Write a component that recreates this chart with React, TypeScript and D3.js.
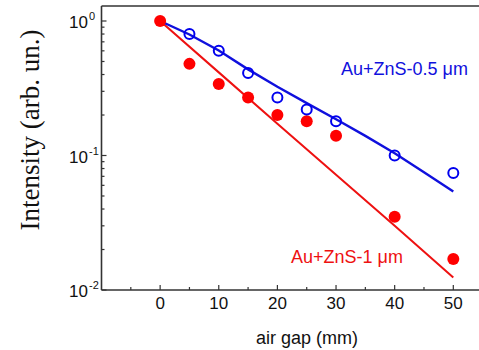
import React from "react";
import * as d3 from "d3";

const gapBlue = [5, 10, 15, 20, 25, 30, 40, 50];
const intensityBlue = [0.8, 0.6, 0.41, 0.27, 0.22, 0.18, 0.1, 0.074];
const gapRed = [0, 5, 10, 15, 20, 25, 30, 40, 50];
const intensityRed = [1.0, 0.48, 0.34, 0.27, 0.2, 0.18, 0.14, 0.035, 0.017];
const fitGapBlue = [0, 5, 10, 15, 20, 25, 30, 35, 40, 45, 50];
const fitBlue = [1.0, 0.794, 0.603, 0.437, 0.324, 0.245, 0.186, 0.14, 0.104, 0.075, 0.054];
const fitGapRed = [0, 10, 20, 30, 40, 50];
const fitRed = [1.0, 0.415, 0.172, 0.072, 0.03, 0.0124];
const xMajorTicks = [0, 10, 20, 30, 40, 50];
const xMinorTicks = [-5, 5, 15, 25, 35, 45];
const yMajorTicks = [1, 0.1, 0.01];
const yTickExp = ["0", "-1", "-2"];
const labelBlue = "Au+ZnS-0.5 \u03bcm";
const labelRed = "Au+ZnS-1 \u03bcm";

export default function App() {
  const W = 479, H = 350;
  const x = d3.scaleLinear().domain([-10, 50]).range([101.5, 453.3]);
  const y = d3.scaleLog().domain([0.01, 1]).range([290, 21]);
  const top = 6, bottom = 290, left = 101.5, right = 485;
  const axisColor = "#333";
  const yMinor: number[] = [];
  [0.01, 0.1].forEach((d) => {
    for (let k = 2; k <= 9; k++) yMinor.push(d * k);
  });
  const line = d3.line<[number, number]>().x((d) => x(d[0])).y((d) => y(d[1]));
  const bluePath = line(fitGapBlue.map((g, i) => [g, fitBlue[i]]))!;
  const redPath = line(fitGapRed.map((g, i) => [g, fitRed[i]]))!;
  const font = "Arial, 'Liberation Sans', sans-serif";
  return (
    <svg width={W} height={H} style={{ position: "absolute", left: 0, top: 0, background: "#fff" }}>
      <rect x={0} y={0} width={W} height={H} fill="#fff" />
      <line x1={left} x2={right} y1={top} y2={top} stroke={axisColor} strokeWidth={1.6} />
      <line x1={left} x2={left} y1={top} y2={bottom} stroke={axisColor} strokeWidth={1.6} />
      <line x1={left} x2={right} y1={bottom} y2={bottom} stroke={axisColor} strokeWidth={1.6} />
      {xMajorTicks.map((t) => (
        <g key={"xm" + t}>
          <line x1={x(t)} x2={x(t)} y1={bottom} y2={bottom - 5} stroke={axisColor} strokeWidth={1.2} />
          <text x={x(t)} y={309} textAnchor="middle" fontFamily={font} fontSize={17} fill="#111">{t}</text>
        </g>
      ))}
      {xMinorTicks.map((t) => (
        <line key={"xn" + t} x1={x(t)} x2={x(t)} y1={bottom} y2={bottom - 3} stroke={axisColor} strokeWidth={1.2} />
      ))}
      {yMajorTicks.map((t, i) => (
        <g key={"ym" + t}>
          <line x1={left} x2={left + 5} y1={y(t)} y2={y(t)} stroke={axisColor} strokeWidth={1.2} />
          <text x={88} y={y(t) + 7} textAnchor="end" fontFamily={font} fontSize={17} fill="#111">10</text>
          <text x={89} y={y(t) - 1} textAnchor="start" fontFamily={font} fontSize={11} fill="#111">{yTickExp[i]}</text>
        </g>
      ))}
      {yMinor.map((t) => (
        <line key={"yn" + t} x1={left} x2={left + 3} y1={y(t)} y2={y(t)} stroke={axisColor} strokeWidth={1.2} />
      ))}
      <path d={redPath} fill="none" stroke="#ee1111" strokeWidth={2} />
      <path d={bluePath} fill="none" stroke="#1010dd" strokeWidth={2.4} />
      {gapRed.map((g, i) => (
        <circle key={"r" + i} cx={x(g)} cy={y(intensityRed[i])} r={6} fill="#ff0000" />
      ))}
      {gapBlue.map((g, i) => (
        <circle key={"b" + i} cx={x(g)} cy={y(intensityBlue[i])} r={5} fill="none" stroke="#0000ee" strokeWidth={2} />
      ))}
      <text x={341} y={75} fontFamily={font} fontSize={18} fill="#1010dd">{labelBlue}</text>
      <text x={291} y={263} fontFamily={font} fontSize={18} fill="#ee1111">{labelRed}</text>
      <text x={307} y={344} textAnchor="middle" fontFamily={font} fontSize={18} fill="#111">air gap (mm)</text>
      <text
        transform={`translate(39,130) rotate(-90)`}
        textAnchor="middle"
        fontFamily="'Liberation Serif', 'Times New Roman', serif"
        fontSize={27}
        fill="#111"
      >
        Intensity (arb. un.)
      </text>
    </svg>
  );
}
